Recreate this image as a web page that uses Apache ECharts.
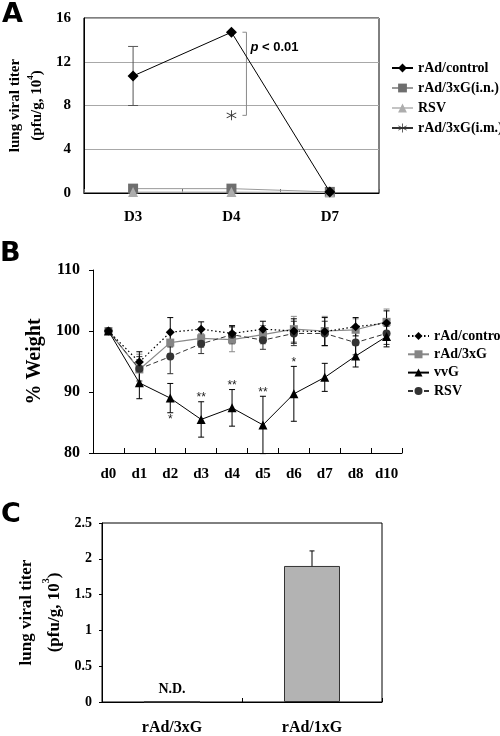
<!DOCTYPE html>
<html><head><meta charset="utf-8">
<script src="https://cdn.jsdelivr.net/npm/echarts@6/dist/echarts.min.js"></script>
<style>html,body{margin:0;padding:0;background:#fff}#c{width:500px;height:736px}</style>
</head><body><div id="c"></div><script>
// ---------- Panel A data ----------
const aCats = ['D3', 'D4', 'D7'];
const aControl = [10.7, 14.7, 0.1];
const aControlErr = [2.7, 0, 0];
const a3xGin = [0.4, 0.4, 0.1];
const aRSV = [0.1, 0.1, 0.05];
const a3xGim = ['-', 7.1, '-'];
const aPText = 'p < 0.01';
// ---------- Panel B data ----------
const bCats = ['d0', 'd1', 'd2', 'd3', 'd4', 'd5', 'd6', 'd7', 'd8', 'd10'];
const bControl = [100, 94.9, 99.8, 100.3, 99.6, 100.3, 100.0, 99.9, 100.7, 101.3];
const bControlErr = [0, 1.7, 2.4, 1.2, 1.2, 1.3, 2.0, 2.3, 1.5, 2.0];
const b3xG = [100, 93.7, 98.1, 98.8, 98.6, 99.4, 100.3, 100.0, 100.2, 101.5];
const b3xGErr = [0, 2.5, 1.8, 1.5, 2.0, 1.5, 2.1, 2.4, 1.8, 2.1];
const bVvG = [100, 91.5, 89.0, 85.5, 87.4, 84.6, 89.7, 92.4, 95.9, 99.1];
const bVvGErr = [0, 2.6, 2.4, 2.9, 3.0, 4.7, 4.5, 2.3, 1.8, 1.7];
const bRSV = [100, 93.8, 95.8, 97.9, 99.4, 98.5, 99.6, 99.6, 98.1, 99.6];
const bRSVErr = [0, 2.0, 2.8, 1.6, 1.5, 1.5, 2.0, 2.0, 2.0, 1.8];
const bSig = ['', '', '*', '**', '**', '**', '*', '', '', ''];
const bSigBelow = [false, false, true, false, false, false, false, false, false, false];
// ---------- Panel C data ----------
const cCats = ['rAd/3xG', 'rAd/1xG'];
const cTiter = [0, 1.9];
const cErr = [0, 0.21];
const cNotes = ['N.D.', ''];

const SERIF = '"Liberation Serif", "Times New Roman", serif';
const SANS = '"Liberation Sans", Arial, sans-serif';
const ASTER = 'path://M-0.4,-5L0.4,-5L0.4,5L-0.4,5Z M4.13,-2.85L4.53,-2.15L-4.13,2.85L-4.53,2.15Z M-4.53,-2.15L-4.13,-2.85L4.53,2.15L4.13,2.85Z';

function errData(vals, errs) {
  const out = [];
  vals.forEach((v, i) => { if (errs[i] > 0) out.push([i, v - errs[i], v + errs[i]]); });
  return out;
}
function errSeries(gi, vals, errs, color, cap, extra) {
  return {
    type: 'custom', xAxisIndex: gi, yAxisIndex: gi, z: 1, silent: true,
    data: errData(vals, errs), encode: { x: 0, y: [1, 2] },
    renderItem: function (params, api) {
      const i = api.value(0);
      const lo = api.coord([i, api.value(1)]);
      const hi = api.coord([i, api.value(2)]);
      const st = { stroke: color, lineWidth: 1 };
      const h = cap / 2;
      const ch = [
        { type: 'line', shape: { x1: hi[0], y1: hi[1], x2: lo[0], y2: lo[1] }, style: st },
        { type: 'line', shape: { x1: hi[0] - h, y1: hi[1], x2: hi[0] + h, y2: hi[1] }, style: st },
        { type: 'line', shape: { x1: lo[0] - h, y1: lo[1], x2: lo[0] + h, y2: lo[1] }, style: st }
      ];
      if (extra) extra(i, lo, hi, ch);
      return { type: 'group', children: ch };
    }
  };
}
const axisLbl = (size, margin) => ({ fontFamily: SERIF, fontWeight: 'bold', fontSize: size, color: '#000', margin: margin });
const blackLine = { show: true, lineStyle: { color: '#000', width: 1 } };

const chart = echarts.init(document.getElementById('c'), null, { renderer: 'canvas' });
chart.setOption({
  animation: false,
  backgroundColor: '#fff',
  graphic: [
    { type: 'text', x: 2, y: 15, style: { text: 'A', font: 'bold 27px "DejaVu Sans"', fill: '#000', verticalAlign: 'middle' } },
    { type: 'text', x: 0, y: 254, style: { text: 'B', font: 'bold 27px "DejaVu Sans"', fill: '#000', verticalAlign: 'middle' } },
    { type: 'text', x: 1, y: 515, style: { text: 'C', font: 'bold 27px "DejaVu Sans"', fill: '#000', verticalAlign: 'middle' } }
  ],
  grid: [
    { left: 77, top: 18, width: 302, height: 175, show: true, borderColor: '#000', borderWidth: 1 },
    { left: 93, top: 270, width: 309, height: 183 },
    { left: 102, top: 523, width: 280, height: 179, show: true, borderColor: '#000', borderWidth: 1 }
  ],
  legend: [
    {
      data: ['rAd/control', 'rAd/3xG(i.n.)', 'RSV', 'rAd/3xG(i.m.)'],
      orient: 'vertical', left: 391, top: 61, padding: 0, itemWidth: 21, itemHeight: 11, itemGap: 6,
      textStyle: { fontFamily: SERIF, fontWeight: 'bold', fontSize: 14, color: '#000' }
    },
    {
      data: ['rAd/control ', 'rAd/3xG', 'vvG', 'RSV '],
      formatter: n => n.trim(),
      orient: 'vertical', left: 407, top: 329, padding: 0, itemWidth: 21, itemHeight: 10, itemGap: 4.3,
      textStyle: { fontFamily: SERIF, fontWeight: 'bold', fontSize: 14, color: '#000' }
    }
  ],
  xAxis: [
    { gridIndex: 0, type: 'category', data: aCats, boundaryGap: true, axisLine: blackLine,
      axisTick: { show: true, inside: true, length: 4, interval: 0, lineStyle: { color: '#666' } },
      axisLabel: axisLbl(15, 17) },
    { gridIndex: 1, type: 'category', data: bCats, boundaryGap: true, axisLine: blackLine,
      axisTick: { show: true, inside: true, length: 5, interval: 0, lineStyle: { color: '#000' } },
      axisLabel: Object.assign(axisLbl(15, 14), { interval: 0 }) },
    { gridIndex: 2, type: 'category', data: cCats, boundaryGap: true, axisLine: blackLine,
      axisTick: { show: true, inside: true, length: 4, interval: 0, lineStyle: { color: '#000' } },
      axisLabel: axisLbl(16, 18) }
  ],
  yAxis: [
    { gridIndex: 0, type: 'value', min: 0, max: 16, interval: 4, axisLine: blackLine,
      axisTick: { show: false }, splitLine: { show: true, lineStyle: { color: '#a8a8a8', width: 1 } },
      axisLabel: axisLbl(15, 13),
      name: '{a|lung viral titer}\n{a|(pfu/g, 10}{s|4}{a|)}', nameLocation: 'middle', nameRotate: 90, nameGap: 32,
      nameTextStyle: { rich: {
        a: { fontFamily: SERIF, fontWeight: 'bold', fontSize: 15, lineHeight: 22, color: '#000' },
        s: { fontFamily: SERIF, fontWeight: 'bold', fontSize: 9, verticalAlign: 'top', color: '#000' } } } },
    { gridIndex: 1, type: 'value', min: 80, max: 110, interval: 10, axisLine: blackLine,
      axisTick: { show: true, length: 4, lineStyle: { color: '#000' } }, splitLine: { show: false },
      axisLabel: axisLbl(16, 13),
      name: '% Weight', nameLocation: 'middle', nameRotate: 90, nameGap: 45,
      nameTextStyle: { fontFamily: SERIF, fontWeight: 'bold', fontSize: 20, color: '#000' } },
    { gridIndex: 2, type: 'value', min: 0, max: 2.5, interval: 0.5, axisLine: blackLine,
      axisTick: { show: true, length: 3, lineStyle: { color: '#000' } }, splitLine: { show: false },
      axisLabel: axisLbl(14, 10),
      name: '{a|lung viral titer}\n{a|(pfu/g, 10}{s|3}{a|)}', nameLocation: 'middle', nameRotate: 90, nameGap: 30,
      nameTextStyle: { rich: {
        a: { fontFamily: SERIF, fontWeight: 'bold', fontSize: 17, lineHeight: 28, color: '#000' },
        s: { fontFamily: SERIF, fontWeight: 'bold', fontSize: 10, verticalAlign: 'top', color: '#000' } } } }
  ],
  series: [
    // ----- A -----
    errSeries(0, aControl, aControlErr, '#555', 10),
    { name: 'rAd/3xG(i.n.)', type: 'line', xAxisIndex: 0, yAxisIndex: 0, data: a3xGin, symbol: 'rect', symbolSize: 10,
      lineStyle: { color: '#9a9a9a', width: 1 }, itemStyle: { color: '#6e6e6e' }, z: 3 },
    { name: 'RSV', type: 'line', xAxisIndex: 0, yAxisIndex: 0, data: aRSV, symbol: 'triangle', symbolSize: 10,
      lineStyle: { color: '#c4c4c4', width: 1 }, itemStyle: { color: '#adadad' }, z: 3 },
    { name: 'rAd/3xG(i.m.)', type: 'line', xAxisIndex: 0, yAxisIndex: 0, data: a3xGim, symbol: ASTER, symbolSize: 10,
      lineStyle: { color: '#333', width: 1 }, itemStyle: { color: '#333' }, z: 4 },
    { name: 'rAd/control', type: 'line', xAxisIndex: 0, yAxisIndex: 0, data: aControl, symbol: 'diamond', symbolSize: 11,
      lineStyle: { color: '#000', width: 1 }, itemStyle: { color: '#000' }, z: 5 },
    { type: 'custom', xAxisIndex: 0, yAxisIndex: 0, silent: true, z: 2,
      data: [[1, aControl[1], a3xGim[1]]], encode: { x: 0, y: [1, 2] },
      renderItem: function (params, api) {
        const top = api.coord([api.value(0), api.value(1)]);
        const bot = api.coord([api.value(0), api.value(2)]);
        const x = top[0] + 15;
        const st = { stroke: '#8a8a8a', lineWidth: 1 };
        return { type: 'group', children: [
          { type: 'line', shape: { x1: x, y1: top[1], x2: x, y2: bot[1] }, style: st },
          { type: 'line', shape: { x1: x - 4, y1: top[1], x2: x, y2: top[1] }, style: st },
          { type: 'line', shape: { x1: x - 4, y1: bot[1], x2: x, y2: bot[1] }, style: st },
          { type: 'text', x: x + 4, y: top[1] + 15, style: {
              text: '{i|' + aPText.slice(0, 1) + '}' + aPText.slice(1),
              font: 'bold 13px ' + SANS, fill: '#000', align: 'left', verticalAlign: 'middle',
              rich: { i: { fontStyle: 'italic', fontWeight: 'bold', fontSize: 13, fontFamily: SANS, fill: '#000' } } } }
        ] };
      } },
    // ----- B -----
    errSeries(1, b3xG, b3xGErr, '#8a8a8a', 6),
    errSeries(1, bRSV, bRSVErr, '#333', 6),
    errSeries(1, bControl, bControlErr, '#000', 6),
    errSeries(1, bVvG, bVvGErr, '#000', 6, function (i, lo, hi, ch) {
      if (!bSig[i]) return;
      const below = bSigBelow[i];
      ch.push({ type: 'text', x: hi[0], y: below ? lo[1] + 7 : hi[1] - 4,
        style: { text: bSig[i], font: '12px ' + SANS, fill: '#222', align: 'center', verticalAlign: 'middle' } });
    }),
    { name: 'rAd/3xG', type: 'line', xAxisIndex: 1, yAxisIndex: 1, data: b3xG, symbol: 'rect', symbolSize: 8,
      lineStyle: { color: '#8a8a8a', width: 1.2 }, itemStyle: { color: '#858585' }, z: 3 },
    { name: 'RSV ', type: 'line', xAxisIndex: 1, yAxisIndex: 1, data: bRSV, symbol: 'circle', symbolSize: 8,
      lineStyle: { color: '#333', width: 1, type: [5, 3] }, itemStyle: { color: '#333' }, z: 3 },
    { name: 'rAd/control ', type: 'line', xAxisIndex: 1, yAxisIndex: 1, data: bControl, symbol: 'diamond', symbolSize: 9,
      lineStyle: { color: '#000', width: 1.2, type: [1.5, 2.5] }, itemStyle: { color: '#000' }, z: 4 },
    { name: 'vvG', type: 'line', xAxisIndex: 1, yAxisIndex: 1, data: bVvG, symbol: 'triangle', symbolSize: 9,
      lineStyle: { color: '#000', width: 1 }, itemStyle: { color: '#000' }, z: 4 },
    // ----- C -----
    { type: 'bar', xAxisIndex: 2, yAxisIndex: 2, barWidth: '40%',
      data: cTiter.map((v, i) => ({ value: v, label: { show: !!cNotes[i], formatter: cNotes[i] } })),
      itemStyle: { color: '#b3b3b3', borderColor: '#333', borderWidth: 1 },
      label: { position: 'top', distance: 5, fontFamily: SERIF, fontWeight: 'bold', fontSize: 14, color: '#000' } },
    errSeries(2, cTiter, cErr, '#000', 5)
  ]
});
</script></body></html>
